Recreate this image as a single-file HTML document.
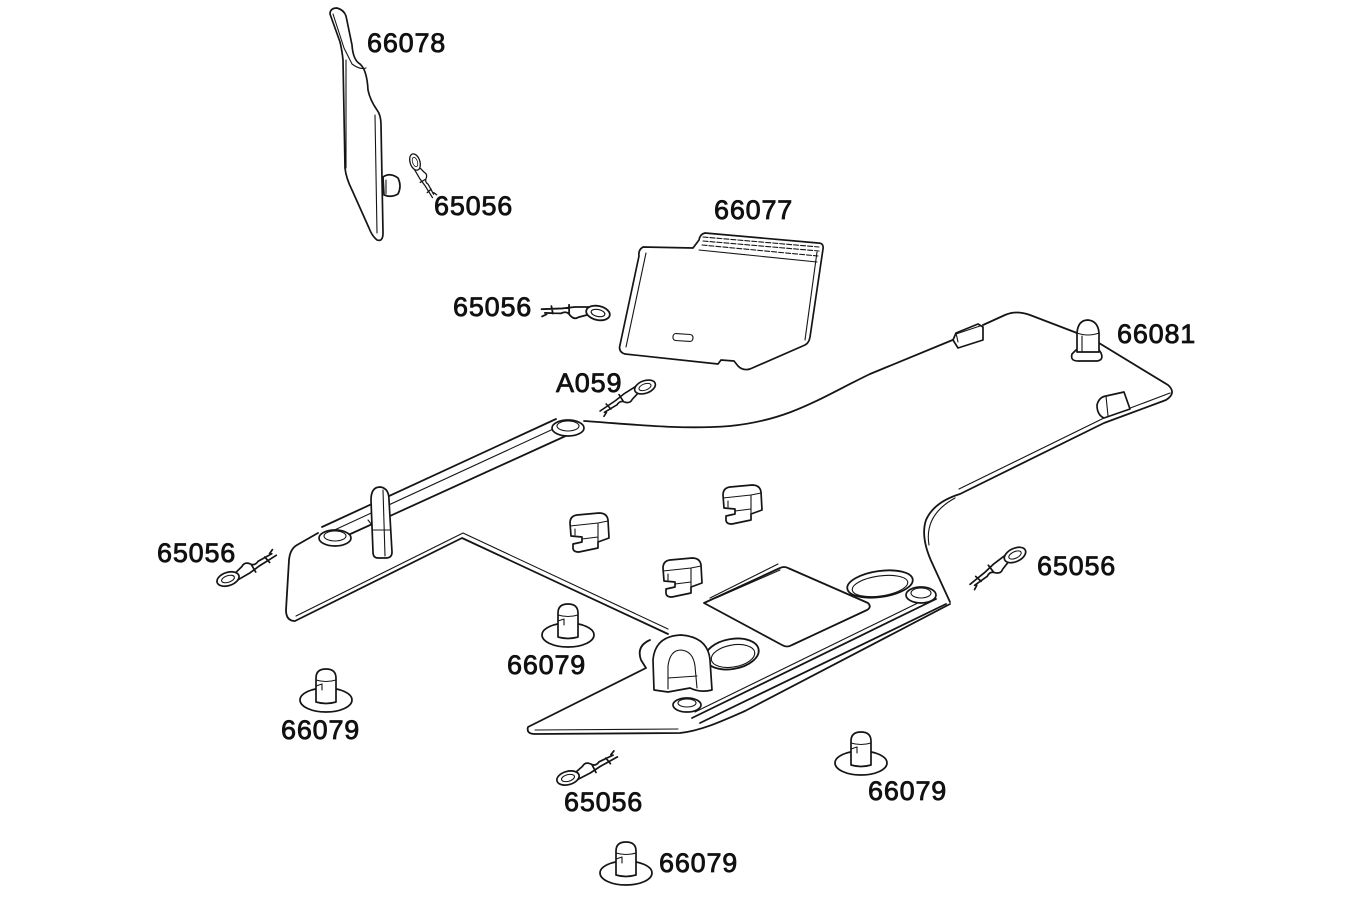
<!DOCTYPE html>
<html><head><meta charset="utf-8">
<style>
html,body{margin:0;padding:0;background:#fff;}
svg{display:block;}
text{font-family:"Liberation Sans",sans-serif;font-size:27px;fill:#111;stroke:#111;stroke-width:0.8;letter-spacing:0.8px;}
.l{fill:none;stroke:#151515;stroke-width:1.8;stroke-linejoin:round;stroke-linecap:round;}
.t{fill:none;stroke:#151515;stroke-width:1.1;stroke-linejoin:round;stroke-linecap:round;}
.w{fill:#fff;stroke:#151515;stroke-width:1.7;stroke-linejoin:round;}
</style></head>
<body>
<svg width="1350" height="900" viewBox="0 0 1350 900" xmlns="http://www.w3.org/2000/svg">
<defs>
  <g id="clip">
    <ellipse class="l" cx="0" cy="0" rx="12" ry="7"/>
    <ellipse class="t" cx="0" cy="0" rx="7" ry="3.5"/>
    <path class="l" d="M10,-4 L18,-8 Q22,-12 27,-8 Q31,-4 36,-8 L52,-11 M10,4 L24,1 Q30,-1 36,-3 L56,-8 M28,-7 L30,2 M44,-10 L47,-3 M50,-12 L54,-15"/>
  </g>
  <g id="stud">
    <ellipse class="w" cx="0" cy="0" rx="26" ry="12"/>
    <path class="w" d="M-10,2 L-10,-22 Q-10,-31 0,-31 Q10,-31 10,-22 L10,2 Q0,5 -10,2 Z"/>
    <path class="t" d="M-10,-20 Q0,-17 10,-20 M-10,-14 L-4,-16 L-4,-10"/>
  </g>
  <g id="box">
    <path class="w" d="M3,10 Q3,3 10,2 L32,0 Q40,0 41,7 L42,25 L31,29 L31,35 L12,39 Q6,39 6,35 L6,31 L15,29 L15,24 L4,23 Z"/>
    <path class="t" d="M3,13 L31,10 L41,8 M31,10 L31,29 M8,16 L8,22 M15,26 L31,24"/>
  </g>
</defs>

<!-- Panel 66078 -->
<path class="w" d="M330,14 Q330,8 337,8 Q344,10 346,16 L352,45 Q353,60 360,64 Q367,70 368,90 Q370,100 377,110 Q381,115 381,125 L383,233 Q383,242 377,240 Q372,236 369,228 L352,190 Q346,178 345,168 L343,60 Q342,50 340,42 Z"/>
<path class="t" d="M333,14 L344,48 L352,64 M375,115 L377,233 M346,168 L346,60 M352,64 Q360,70 366,68"/>
<path class="w" d="M383,177 Q390,172 398,178 Q402,186 398,194 Q391,198 384,195 Z"/>
<path class="t" d="M386,180 L386,194"/>
<g transform="translate(415,162) rotate(72) scale(0.7)"><use href="#clip"/></g>

<!-- Panel 66077 -->
<path class="w" d="M643,247 Q638,250 639,256 L620,345 Q618,352 625,354 L718,364 L721,360 L734,361 L738,366 Q743,371 750,369 L805,345 Q809,343 810,337 L823,249 Q824,243 818,243 L705,233 Q700,234 699,240 L693,248 Z"/>
<path class="t" d="M646,253 L626,347 M817,252 L805,340 M699,250 L817,262"/>
<path class="t" d="M703,237 L819,247 M703,241 L819,251 M702,245 L818,256" stroke-dasharray="5 2"/>
<rect class="t" x="673" y="334" width="20" height="7" rx="3" transform="rotate(4 683 337)"/>

<!-- clips 65056 / A059 -->
<g transform="translate(598,313) rotate(192)"><use href="#clip"/></g>
<g transform="translate(645,387) rotate(160) scale(0.9)"><use href="#clip"/></g>
<g transform="translate(228,579) rotate(-18) scale(0.95)"><use href="#clip"/></g>
<g transform="translate(1015,555) rotate(155) scale(0.95)"><use href="#clip"/></g>
<g transform="translate(568,778) rotate(-15) scale(0.95)"><use href="#clip"/></g>

<!-- Chassis -->
<path class="l" d="M318,533 L297,545 Q290,549 289,560 L286,610 Q286,621 295,621 L462,538 L668,634"/>
<path class="t" d="M296,616 L463,533 L668,629"/>
<path class="l" d="M322,527 L556,419 M335,541 L570,434"/>
<path class="t" d="M328,533 L562,425"/>
<ellipse class="w" cx="335" cy="538" rx="16" ry="8"/>
<ellipse class="t" cx="335" cy="536" rx="11" ry="5"/>
<ellipse class="w" cx="568" cy="428" rx="16" ry="8"/>
<ellipse class="t" cx="568" cy="426" rx="11" ry="5"/>
<path class="w" d="M371,500 Q371,487 380,487 Q389,488 389,500 L392,552 Q392,558 386,558 L378,558 Q373,558 373,552 Z"/>
<path class="t" d="M383,490 L385,556 M373,530 L391,530 M368,520 L372,525"/>
<path class="l" d="M584,421 C630,424 680,430 730,426 C790,420 820,398 870,374 L955,339"/>
<path class="l" d="M983,325 L1005,315 Q1016,310 1030,315 L1077,333"/>
<path class="l" d="M1099,343 L1168,385 Q1177,393 1166,400 L1104,423 L960,494 Q934,502 926,520 Q920,538 933,565 L950,602"/>
<path class="t" d="M1170,393 L1104,418 L959,489 M929,545 Q924,515 955,498"/>
<path class="l" d="M650,640 Q636,646 641,660 L646,668 L528,727 Q526,734 535,734 L680,733 C700,731 720,722 745,711 L950,604"/>
<path class="t" d="M535,730 L678,729"/>
<path class="l" d="M692,718 L936,599 M700,723 L946,604"/>
<path class="t" d="M695,712 L928,598"/>
<ellipse class="w" cx="687" cy="705" rx="14" ry="7"/>
<ellipse class="t" cx="687" cy="703" rx="9" ry="4"/>
<ellipse class="w" cx="921" cy="595" rx="15" ry="8"/>
<ellipse class="t" cx="921" cy="593" rx="10" ry="5"/>
<path class="l" d="M704,603 L780,568 Q784,566 788,568 L868,603 Q872,607 867,610 L792,645 Q787,648 782,645 Z"/>
<path class="t" d="M710,598 L778,564 M716,598 L780,570"/>
<ellipse class="l" cx="880" cy="584" rx="33" ry="13" transform="rotate(-8 880 584)"/>
<ellipse class="t" cx="880" cy="586" rx="28" ry="10" transform="rotate(-8 880 586)"/>
<ellipse class="l" cx="732" cy="654" rx="27" ry="15" transform="rotate(-10 732 654)"/>
<ellipse class="t" cx="733" cy="656" rx="22" ry="11" transform="rotate(-10 733 656)"/>
<path class="w" d="M654,690 L653,660 Q655,636 681,635 Q708,637 710,660 L712,690 Q700,693 690,688 L668,692 Z"/>
<path class="t" d="M668,689 L668,666 Q670,650 681,650 Q693,651 695,666 L697,688 M668,678 L697,676"/>
<g transform="translate(567,513)"><use href="#box"/></g>
<g transform="translate(720,485)"><use href="#box"/></g>
<g transform="translate(660,558)"><use href="#box"/></g>
<path class="w" d="M953,340 L956,333 L978,324 L983,327 L983,340 L958,348 Z"/>
<path class="t" d="M956,334 L980,326 M958,342 L956,333"/>
<path class="w" d="M1097,405 Q1099,397 1106,396 L1124,392 L1130,409 L1104,418 Q1097,415 1097,405 Z"/>
<path class="t" d="M1106,396 L1108,416"/>
<path class="w" d="M1072,354 Q1070,361 1078,361 L1097,361 Q1104,360 1101,353 L1099,350 L1076,350 Z"/>
<path class="w" d="M1077,352 L1077,333 Q1078,320 1088,320 Q1098,321 1099,333 L1099,352 Z"/>
<path class="t" d="M1077,333 Q1088,337 1099,333 M1082,336 L1082,352"/>

<g transform="translate(568,635)"><use href="#stud"/></g>
<g transform="translate(326,700)"><use href="#stud"/></g>
<g transform="translate(861,763)"><use href="#stud"/></g>
<g transform="translate(626,873)"><use href="#stud"/></g>

<text x="367" y="52">66078</text>
<text x="434" y="215">65056</text>
<text x="714" y="219">66077</text>
<text x="453" y="316">65056</text>
<text x="556" y="392">A059</text>
<text x="1117" y="343">66081</text>
<text x="157" y="562">65056</text>
<text x="1037" y="575">65056</text>
<text x="507" y="674">66079</text>
<text x="281" y="739">66079</text>
<text x="868" y="800">66079</text>
<text x="564" y="811">65056</text>
<text x="659" y="872">66079</text>
</svg>
</body></html>
